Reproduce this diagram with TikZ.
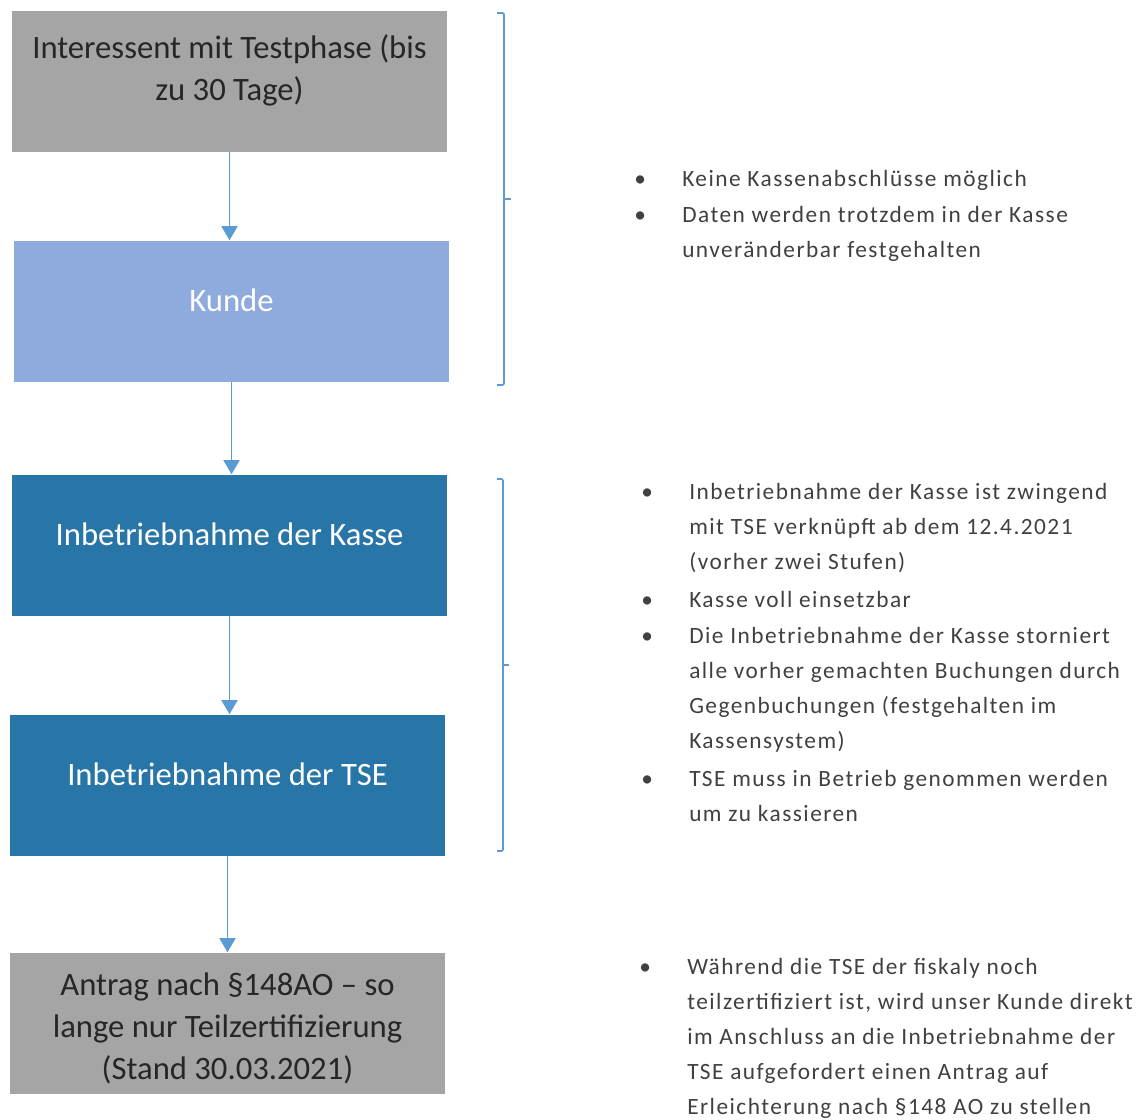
\documentclass[tikz,border=0pt]{standalone}
\usepackage{fontspec}
\setmainfont{Carlito}
\newfontfamily\notefont[LetterSpace=6.3]{Carlito}
\usetikzlibrary{arrows.meta}

\definecolor{testgray}{HTML}{A5A5A5}
\definecolor{kundeblue}{HTML}{8FAADC}
\definecolor{setupblue}{HTML}{2876A7}
\definecolor{linkblue}{HTML}{5B9BD5}
\definecolor{notegray}{HTML}{404040}
\definecolor{boxtext}{HTML}{262626}

\newcommand{\notebullet}{\makebox[36pt][l]{•}}
\newcommand{\noteindent}{\hspace*{36pt}}

\begin{document}
\begin{tikzpicture}[
	x=0.75pt, y=-0.75pt,
	every node/.style={inner sep=0pt},
	stepbox/.style={minimum width=326.25pt, minimum height=105.75pt, align=center, font=\fontsize{24.5}{31.5}\selectfont},
	testbox/.style={stepbox, fill=testgray, text=boxtext},
	kundebox/.style={stepbox, fill=kundeblue, text=white},
	setupbox/.style={stepbox, fill=setupblue, text=white},
	oneline/.style={text height=8pt, text depth=8pt},
	notes/.style={anchor=west, align=left, text=notegray, font=\notefont\fontsize{17.5}{26.25}\selectfont},
	flow/.style={draw=linkblue, line width=1.4pt, -{Triangle[width=12pt,length=10.5pt]}},
	bracket/.style={draw=linkblue, line width=1.3pt, rounded corners=1pt}
]
\useasboundingbox (0,0) rectangle (1142,1120);

% flow of steps
\node[testbox, text height=39.25pt, text depth=10pt] (test) at (229.5,81.5) {Interessent mit Testphase (bis\\zu 30 Tage)};
\node[kundebox, oneline] (kunde) at (231.5,311) {Kunde};
\node[setupbox, oneline] (kasse) at (229.5,545) {Inbetriebnahme der Kasse};
\node[setupbox, oneline] (tse) at (227.5,785) {Inbetriebnahme der TSE};
\node[testbox, text height=94pt, text depth=10pt] (antrag) at (227.5,1023) {Antrag nach §148AO – so\\lange nur Teilzertifizierung\\(Stand 30.03.2021)};

\draw[flow] (test.south) -- (test.south |- kunde.north);
\draw[flow] (kunde.south) -- (kunde.south |- kasse.north);
\draw[flow] (kasse.south) -- (kasse.south |- tse.north);
\draw[flow] (tse.south) -- (tse.south |- antrag.north);

% brackets
\draw[bracket] (497,13) -- (504,13) -- (504,385) -- (497,385);
\draw[bracket] (504,199) -- (511,199);
\draw[bracket] (497,479) -- (503,479) -- (503,851) -- (497,851);
\draw[bracket] (503,665) -- (509,665);

% notes
\node[notes] (testnote) at (634,216) {\notebullet Keine Kassenabschlüsse möglich\\[0.75pt]
	\notebullet Daten werden trotzdem in der Kasse\\
	\noteindent unveränderbar festgehalten};
\node[notes] (setupnote) at (641,652.5) {\notebullet Inbetriebnahme der Kasse ist zwingend\\
	\noteindent mit TSE verknüpft ab dem 12.4.2021\\
	\noteindent (vorher zwei Stufen)\\[2.25pt]
	\notebullet Kasse voll einsetzbar\\[0.75pt]
	\notebullet Die Inbetriebnahme der Kasse storniert\\
	\noteindent alle vorher gemachten Buchungen durch\\
	\noteindent Gegenbuchungen (festgehalten im\\
	\noteindent Kassensystem)\\[2.25pt]
	\notebullet TSE muss in Betrieb genommen werden\\
	\noteindent um zu kassieren};
\node[notes] (antragnote) at (639,1038) {\notebullet Während die TSE der fiskaly noch\\
	\noteindent teilzertifiziert ist, wird unser Kunde direkt\\
	\noteindent im Anschluss an die Inbetriebnahme der\\
	\noteindent TSE aufgefordert einen Antrag auf\\
	\noteindent Erleichterung nach §148 AO zu stellen};
\end{tikzpicture}
\end{document}
